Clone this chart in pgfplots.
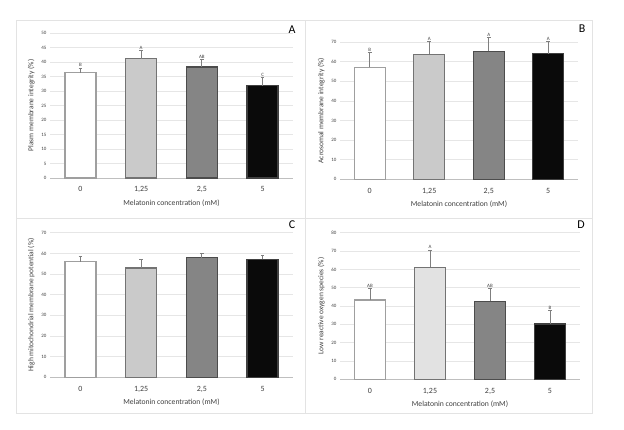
\documentclass[border=0pt]{standalone}
\usepackage{pgfplots}
\pgfplotsset{compat=1.18}
\usepackage{fontspec}
\setmainfont{Carlito}
\definecolor{txt}{HTML}{404040}
\definecolor{gridc}{HTML}{E6E6E6}
\definecolor{axc}{HTML}{BFBFBF}
\definecolor{errc}{HTML}{7F7F7F}
\definecolor{lg}{HTML}{CACACA}
\definecolor{lgD}{HTML}{E2E2E2}
\definecolor{dg}{HTML}{858585}
\definecolor{bk}{HTML}{0A0A0A}
\tikzset{sig/.style={above, font=\fontsize{5}{5}\selectfont, text=txt, inner sep=1bp}}
\pgfplotsset{
  panel/.style={
    scale only axis, anchor=south west, clip=false,
    xmin=-0.5, xmax=3.5, ymin=0,
    xtick={0,1,2,3}, xticklabels={0,{1,25},{2,5},5},
    axis x line*=bottom, axis y line*=left,
    y axis line style={draw=none}, x axis line style={draw=axc, line width=0.6bp},
    ymajorgrids, grid style={gridc, line width=0.5bp},
    major tick style={draw=none},
    ybar, bar width=31bp, bar shift=0pt,
    xlabel={Melatonin concentration (mM)},
    xlabel style={font=\fontsize{7.7}{9}\selectfont, text=txt},
    ylabel style={font=\fontsize{7.5}{8}\selectfont, text=txt},
    yticklabel style={font=\fontsize{5}{5}\selectfont, text=txt},
    xticklabel style={font=\fontsize{8}{9}\selectfont, text=txt, yshift=-1bp},
    /pgf/number format/assume math mode=true,
    error bars/y dir=plus, error bars/y explicit,
    error bars/error bar style={errc, line width=0.8bp},
    error bars/error mark options={rotate=90, errc, mark size=1.8bp, line width=0.8bp},
  },
  b0/.style={fill=white, draw=gray!75, line width=1.4bp},
  b1/.style={fill=lg, draw=gray!90!black, line width=1.4bp},
  b1D/.style={fill=lgD, draw=gray!90!black, line width=1.4bp},
  b2/.style={fill=dg, draw=black!70, line width=1.4bp},
  b3/.style={fill=bk, draw=black!75, line width=1.4bp},
}
\begin{document}
\begin{tikzpicture}
\useasboundingbox (0bp,0bp) rectangle (624bp,430bp);
\fill[white] (0bp,0bp) rectangle (624bp,430bp);
\draw[gray!22, line width=0.6bp] (16bp,17bp) rectangle (592bp,410bp);
\draw[gray!22, line width=0.6bp] (305bp,17bp) -- (305bp,410bp);
\draw[gray!22, line width=0.6bp] (16bp,212bp) -- (592bp,212bp);

% A
\begin{axis}[panel, at={(50bp,252bp)}, width=243bp, height=145bp, ymax=50, ytick={0,5,...,50},
  ylabel={Plasm membrane integrity (\%)}]
\addplot[b0] coordinates {(0,36.3) +- (0,1.6)};
\addplot[b1] coordinates {(1,41.2) +- (0,2.8)};
\addplot[b2] coordinates {(2,38.3) +- (0,2.5)};
\addplot[b3] coordinates {(3,31.8) +- (0,2.8)};
\node[sig] at (axis cs:0,37.9) {B};
\node[sig] at (axis cs:1,44.0) {A};
\node[sig] at (axis cs:2,40.8) {AB};
\node[sig] at (axis cs:3,34.6) {C};
\end{axis}

% B
\begin{axis}[panel, at={(340bp,250.7bp)}, width=238bp, height=137.3bp, ymax=70, ytick={0,10,...,70},
  ylabel={Acrosomal membrane integrity (\%)}]
\addplot[b0] coordinates {(0,57.0) +- (0,7.7)};
\addplot[b1] coordinates {(1,63.7) +- (0,6.6)};
\addplot[b2] coordinates {(2,65.2) +- (0,7.2)};
\addplot[b3] coordinates {(3,64.0) +- (0,6.3)};
\node[sig] at (axis cs:0,64.7) {B};
\node[sig] at (axis cs:1,70.3) {A};
\node[sig] at (axis cs:2,72.4) {A};
\node[sig] at (axis cs:3,70.3) {A};
\end{axis}

% C
\begin{axis}[panel, at={(50bp,52.7bp)}, width=243bp, height=144.6bp, ymax=70, ytick={0,10,...,70},
  ylabel={High mitochondrial membrane potential (\%)}]
\addplot[b0] coordinates {(0,56.0) +- (0,2.7)};
\addplot[b1] coordinates {(1,53.0) +- (0,4.1)};
\addplot[b2] coordinates {(2,57.9) +- (0,2.1)};
\addplot[b3] coordinates {(3,57.1) +- (0,2.1)};
\end{axis}

% D
\begin{axis}[panel, at={(340bp,50.7bp)}, width=240bp, height=146.6bp, ymax=80, ytick={0,10,...,80},
  ylabel={Low reactive oxygen species (\%)}]
\addplot[b0] coordinates {(0,43.3) +- (0,6.3)};
\addplot[b1D] coordinates {(1,61.1) +- (0,9.4)};
\addplot[b2] coordinates {(2,42.5) +- (0,7.1)};
\addplot[b3] coordinates {(3,30.2) +- (0,7.2)};
\node[sig] at (axis cs:0,49.6) {AB};
\node[sig] at (axis cs:1,70.5) {A};
\node[sig] at (axis cs:2,49.6) {AB};
\node[sig] at (axis cs:3,37.4) {B};
\end{axis}

\node[font=\fontsize{12}{13}\selectfont] at (292bp,400bp) {A};
\node[font=\fontsize{12}{13}\selectfont] at (582bp,401bp) {B};
\node[font=\fontsize{12}{13}\selectfont] at (292bp,205bp) {C};
\node[font=\fontsize{12}{13}\selectfont] at (581bp,205bp) {D};
\end{tikzpicture}
\end{document}
